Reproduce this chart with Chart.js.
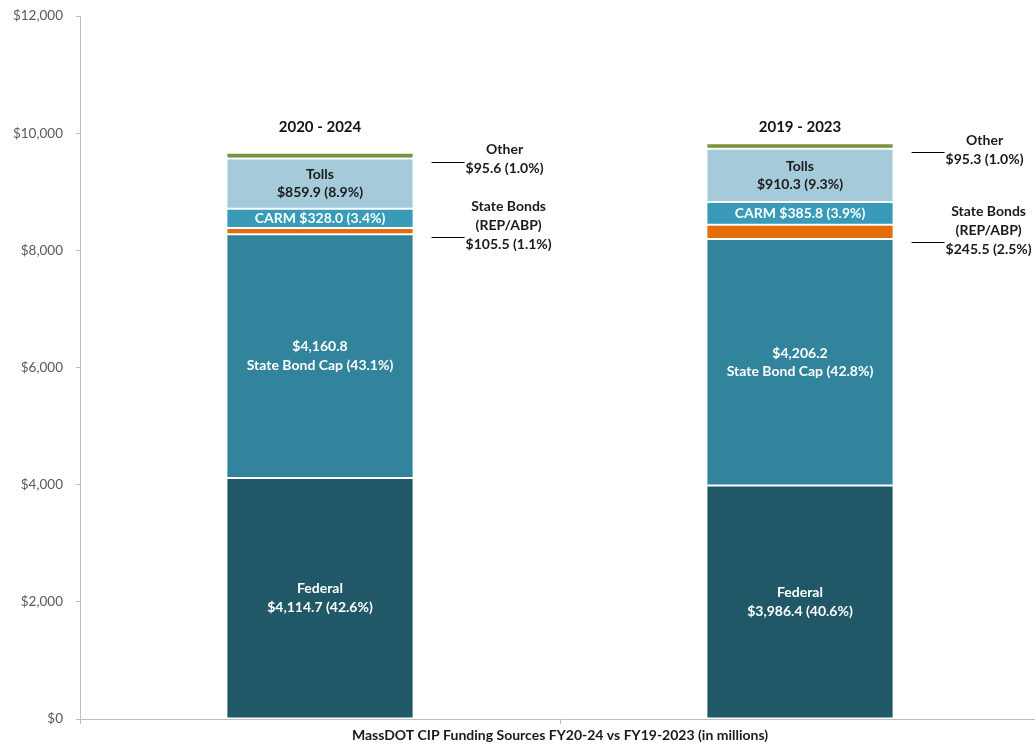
<!DOCTYPE html>
<html>
<head>
<meta charset="utf-8">
<script src="https://cdn.jsdelivr.net/npm/chart.js@4.4.1/dist/chart.umd.min.js"></script>
<style>
  html, body { margin: 0; padding: 0; background: #fff; overflow: hidden; }
  #wrap { width: 1045px; height: 744px; }
</style>
</head>
<body>
<div id="wrap"><canvas id="c" width="1045" height="744"></canvas></div>
<script>
/* MassDOT CIP funding sources, stacked bars */

var periods = ['2020 - 2024', '2019 - 2023'];

var federal = [4114.7, 3986.4];
var stateBondCap = [4160.8, 4206.2];
var stateBondsRep = [105.5, 245.5];
var carm = [328.0, 385.8];
var tolls = [859.9, 910.3];
var other = [95.6, 95.3];

var federalPct = [42.6, 40.6];
var stateBondCapPct = [43.1, 42.8];
var stateBondsRepPct = [1.1, 2.5];
var carmPct = [3.4, 3.9];
var tollsPct = [8.9, 9.3];
var otherPct = [1.0, 1.0];

var yMin = 0, yMax = 12000, yStep = 2000;
var xTitle = 'MassDOT CIP Funding Sources FY20-24 vs FY19-2023 (in millions)';

var FONT = 'Lato, "Open Sans", sans-serif';

function money(v) {
  return '$' + v.toLocaleString('en-US', { minimumFractionDigits: 1, maximumFractionDigits: 1 });
}
function valPct(v, p) { return money(v) + ' (' + p.toFixed(1) + '%)'; }

(function () {
  'use strict';

  // how each segment is labelled
  var labelers = [
    { inside: true, color: '#ffffff', lines: function (v, p) { return ['Federal', valPct(v, p)]; } },
    { inside: true, color: '#ffffff', lines: function (v, p) { return [money(v), 'State Bond Cap (' + p.toFixed(1) + '%)']; } },
    { inside: false, anchor: 'base', lines: function (v, p) { return ['State Bonds', '(REP/ABP)', valPct(v, p)]; } },
    { inside: true, color: '#ffffff', lines: function (v, p) { return ['CARM ' + valPct(v, p)]; } },
    { inside: true, color: '#1a1a1a', lines: function (v, p) { return ['Tolls', valPct(v, p)]; } },
    { inside: false, anchor: 'top', lines: function (v, p) { return ['Other', valPct(v, p)]; } }
  ];

  var segLabels = {
    id: 'segLabels',
    afterDatasetsDraw: function (chart) {
      var ctx = chart.ctx;
      ctx.save();
      ctx.font = 'bold 14px ' + FONT;
      ctx.textBaseline = 'middle';

      chart.data.datasets.forEach(function (ds, di) {
        var lab = labelers[di];
        var meta = chart.getDatasetMeta(di);
        meta.data.forEach(function (bar, i) {
          var lines = lab.lines(ds.data[i], ds.pcts[i]);
          if (lab.inside) {
            var mid = (bar.y + bar.base) / 2;
            var lh = 18.5;
            ctx.fillStyle = lab.color;
            ctx.textAlign = 'center';
            lines.forEach(function (t, k) {
              ctx.fillText(t, bar.x, mid + (k - (lines.length - 1) / 2) * lh);
            });
          } else {
            var right = bar.x + bar.width / 2;
            var ly = lab.anchor === 'top' ? bar.y + 9 : bar.base + 3;
            var x0 = right + 18, x1 = x0 + 33;
            ctx.strokeStyle = '#000';
            ctx.lineWidth = 1;
            ctx.beginPath();
            ctx.moveTo(x0, Math.round(ly) + 0.5);
            ctx.lineTo(x1, Math.round(ly) + 0.5);
            ctx.stroke();

            ctx.fillStyle = '#1a1a1a';
            var last = lines[lines.length - 1];
            var w = ctx.measureText(last).width;
            var cx = x1 + 1 + w / 2;
            var vy = ly + 7;
            ctx.textAlign = 'center';
            lines.forEach(function (t, k) {
              ctx.fillText(t, cx, vy - (lines.length - 1 - k) * 19);
            });
          }
        });
      });

      // period headings above the bars
      var yS = chart.scales.y;
      var xS = chart.scales.x;
      ctx.font = 'bold 15px ' + FONT;
      ctx.fillStyle = '#111';
      ctx.textAlign = 'center';
      periods.forEach(function (p, i) {
        ctx.fillText(p, xS.getPixelForValue(i), yS.getPixelForValue(10100));
      });
      ctx.restore();
    }
  };

  function seg(label, data, pcts, color) {
    return {
      label: label,
      data: data,
      pcts: pcts,
      backgroundColor: color,
      borderColor: '#ffffff',
      borderWidth: 1,
      borderSkipped: false,
      barPercentage: 0.39,
      categoryPercentage: 1
    };
  }

  new Chart(document.getElementById('c').getContext('2d'), {
    type: 'bar',
    data: {
      labels: periods,
      datasets: [
        seg('Federal', federal, federalPct, '#215867'),
        seg('State Bond Cap', stateBondCap, stateBondCapPct, '#31849b'),
        seg('State Bonds (REP/ABP)', stateBondsRep, stateBondsRepPct, '#e46c0a'),
        seg('CARM', carm, carmPct, '#379bb9'),
        seg('Tolls', tolls, tollsPct, '#a5cbdb'),
        seg('Other', other, otherPct, '#77933c')
      ]
    },
    options: {
      responsive: false,
      animation: false,
      devicePixelRatio: 1,
      layout: { padding: { top: 16, right: 5, bottom: 0, left: 0 } },
      plugins: {
        legend: { display: false },
        tooltip: { enabled: false }
      },
      scales: {
        x: {
          stacked: true,
          offset: true,
          grid: { display: true, offset: true, drawOnChartArea: false, drawTicks: true, tickLength: 5, color: '#bfbfbf' },
          border: { color: '#bfbfbf' },
          ticks: { display: false },
          title: {
            display: true,
            text: xTitle,
            color: '#1a1a1a',
            font: { family: FONT, size: 14, weight: 'bold' },
            padding: { top: 0, bottom: 0 }
          },
          afterFit: function (s) { s.height = 25; }
        },
        y: {
          stacked: true,
          min: yMin,
          max: yMax,
          grid: { display: true, drawOnChartArea: false, drawTicks: true, tickLength: 4, color: '#bfbfbf' },
          border: { color: '#bfbfbf' },
          ticks: {
            stepSize: yStep,
            padding: 13,
            color: '#595959',
            font: { family: FONT, size: 13.5 },
            callback: function (v) { return '$' + v.toLocaleString('en-US'); }
          },
          afterFit: function (s) {
            s.width = 80;
            s.paddingTop = 0;
            s.paddingBottom = 0;
          }
        }
      }
    },
    plugins: [segLabels]
  });
})();
</script>
</body>
</html>
